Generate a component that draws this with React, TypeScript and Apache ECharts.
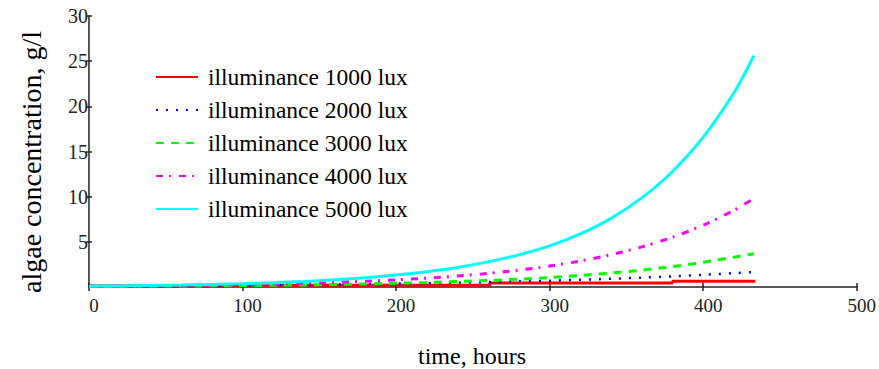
import React, { useEffect, useRef } from "react";
import * as echarts from "echarts";

const hours = [0, 20, 40, 60, 80, 100, 120, 140, 160, 180, 200, 220, 240, 260, 280, 300, 320, 340, 360, 380, 400, 420, 433];

const lux1000Hours = [0, 88, 261, 380, 434];
const lux1000 = [0.1, 0.2, 0.45, 0.63, 0.63];
const lux2000 = [0.1, 0.11, 0.13, 0.15, 0.17, 0.19, 0.22, 0.25, 0.28, 0.32, 0.37, 0.42, 0.48, 0.54, 0.62, 0.7, 0.8, 0.91, 1.04, 1.18, 1.35, 1.53, 1.66];
const lux3000 = [0.06, 0.074, 0.089, 0.108, 0.13, 0.158, 0.19, 0.23, 0.28, 0.34, 0.41, 0.49, 0.6, 0.72, 0.87, 1.05, 1.28, 1.54, 1.87, 2.26, 2.73, 3.3, 3.68];
const lux4000 = [0.09, 0.11, 0.14, 0.17, 0.22, 0.27, 0.33, 0.41, 0.51, 0.64, 0.79, 0.98, 1.22, 1.51, 1.87, 2.32, 2.88, 3.58, 4.44, 5.51, 6.84, 8.49, 9.8];
const lux5000 = [0.09, 0.12, 0.16, 0.21, 0.28, 0.37, 0.48, 0.62, 0.8, 1.03, 1.32, 1.7, 2.17, 2.78, 3.56, 4.55, 5.87, 7.6, 9.86, 12.79, 16.59, 21.5, 25.6];

const seriesNames = [
  "illuminance 1000 lux",
  "illuminance 2000 lux",
  "illuminance 3000 lux",
  "illuminance 4000 lux",
  "illuminance 5000 lux",
];

const FONT = '"Liberation Serif", "Times New Roman", serif';

function pairs(xs: number[], ys: number[]) {
  return xs.map((x, i) => [x, ys[i]]);
}

export default function App() {
  const ref = useRef<HTMLDivElement>(null);
  useEffect(() => {
    if (!ref.current) return;
    const chart = echarts.init(ref.current, undefined, { renderer: "svg" });
    const axisCommon = {
      type: "value" as const,
    };
    chart.setOption({
      animation: false,
      backgroundColor: "#ffffff",
      grid: { left: 89, right: 20, top: 16, bottom: 82 },
      xAxis: [
        {
          ...axisCommon,
          min: 0,
          max: 500,
          interval: 100,
          position: "bottom",
          axisLine: { show: true, lineStyle: { color: "#222", width: 1.5 } },
          axisTick: { show: true, inside: false, length: 4, lineStyle: { color: "#222", width: 1.5 } },
          axisLabel: { color: "#222", fontFamily: FONT, fontSize: 19, margin: 9, padding: [0, 0, 0, 10] },
          splitLine: { show: false },
        },
        {
          ...axisCommon,
          min: 0,
          max: 500,
          interval: 100,
          position: "bottom",
          axisLine: { show: false },
          axisTick: { show: true, inside: true, length: 4, lineStyle: { color: "#222", width: 1.5 } },
          axisLabel: { show: false },
          splitLine: { show: false },
        },
      ],
      yAxis: [
        {
          ...axisCommon,
          min: 0,
          max: 30,
          interval: 5,
          position: "left",
          axisLine: { show: true, lineStyle: { color: "#222", width: 1.5 } },
          axisTick: { show: true, inside: false, length: 3, lineStyle: { color: "#222", width: 1.5 } },
          axisLabel: { color: "#222", fontFamily: FONT, fontSize: 20, margin: 1, showMinLabel: false },
          splitLine: { show: false },
        },
        {
          ...axisCommon,
          min: 0,
          max: 30,
          interval: 5,
          position: "left",
          axisLine: { show: false },
          axisTick: { show: true, inside: true, length: 3, lineStyle: { color: "#222", width: 1.5 } },
          axisLabel: { show: false },
          splitLine: { show: false },
        },
      ],
      legend: {
        orient: "vertical",
        left: 155,
        top: 65,
        padding: 0,
        itemWidth: 42,
        itemHeight: 14,
        itemGap: 9,
        itemStyle: { opacity: 0 },
        textStyle: { fontFamily: FONT, fontSize: 23.5, lineHeight: 24, color: "#000", padding: [0, 0, 0, 5] },
        data: seriesNames,
      },
      graphic: [
        {
          type: "text",
          x: 31,
          y: 162,
          rotation: Math.PI / 2,
          style: {
            text: "algae concentration, g/l",
            font: `28px ${FONT}`,
            fill: "#000",
            textAlign: "center",
            textVerticalAlign: "middle",
            align: "center",
            verticalAlign: "middle",
          },
        },
        {
          type: "text",
          x: 472,
          y: 356,
          style: {
            text: "time, hours",
            font: `24px ${FONT}`,
            fill: "#000",
            textAlign: "center",
            textVerticalAlign: "middle",
            align: "center",
            verticalAlign: "middle",
          },
        },
      ],
      series: [
        {
          name: seriesNames[0],
          type: "line",
          step: "end",
          symbol: "none",
          data: pairs(lux1000Hours, lux1000),
          color: "#ff0000",
          lineStyle: { color: "#ff0000", width: 3 },
        },
        {
          name: seriesNames[1],
          type: "line",
          symbol: "none",
          smooth: 0.3,
          data: pairs(hours, lux2000),
          color: "#0000ff",
          lineStyle: { color: "#0000ff", width: 2.5, type: [2, 8] },
        },
        {
          name: seriesNames[2],
          type: "line",
          symbol: "none",
          smooth: 0.3,
          data: pairs(hours, lux3000),
          color: "#00ff00",
          lineStyle: { color: "#00ff00", width: 3, type: [8, 7] },
        },
        {
          name: seriesNames[3],
          type: "line",
          symbol: "none",
          smooth: 0.3,
          data: pairs(hours, lux4000),
          color: "#ff00ff",
          lineStyle: { color: "#ff00ff", width: 3, type: [7, 6, 2, 8] },
        },
        {
          name: seriesNames[4],
          type: "line",
          symbol: "none",
          smooth: 0.3,
          data: pairs(hours, lux5000),
          color: "#00ffff",
          lineStyle: { color: "#00ffff", width: 3 },
        },
      ],
    });
    return () => chart.dispose();
  }, []);
  return <div ref={ref} style={{ width: 879, height: 369, position: "absolute", left: 0, top: 0 }} />;
}
